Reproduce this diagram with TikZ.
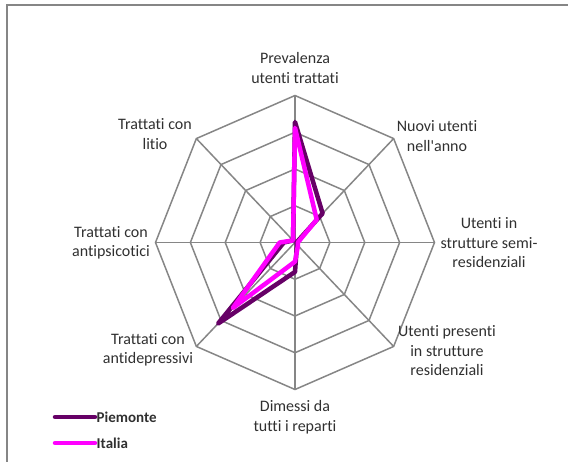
\documentclass[tikz,border=0pt]{standalone}
\usepackage{fontspec}
\setmainfont{Carlito}[Ligatures=NoCommon]
\usepackage{tikz}
\usetikzlibrary{positioning}
\definecolor{piemcol}{HTML}{660066}
\definecolor{itacol}{HTML}{FF00FF}
\definecolor{gridcol}{HTML}{868686}
\definecolor{txtcol}{HTML}{303030}
\tikzset{
 grid/.style={draw=gridcol, line width=1.5pt},
 piem/.style={draw=piemcol, line width=4.5pt, line join=round, line cap=round},
 ita/.style={draw=itacol, line width=4.5pt, line join=round, line cap=round},
 lab/.style={align=center, text=txtcol, font=\fontsize{16}{19.5}\selectfont, inner sep=0pt},
 leg/.style={anchor=west, text=txtcol, font=\fontsize{15}{18}\selectfont\bfseries, inner sep=1.5pt}
}

\begin{document}
\begin{tikzpicture}[x=1pt, y=-1pt]
 \useasboundingbox (0,0) rectangle (568,461);
 \draw[gridcol, line width=2pt] (7,470) -- (7,5) -- (575,5);
 \begin{scope}[shift={(295,242.5)}, x=139.5pt, y=147pt]
  \foreach \r in {0.25,0.5,0.75,1}
   \draw[grid] (0:\r) \foreach \a in {45,90,...,315} { -- (\a:\r) } -- cycle;
  \foreach \a in {0,45,...,315}
   \draw[grid] (0,0) -- (\a:1);
  \draw[piem] (90:0.82) -- (45:0.28) -- (0:0.01) -- (-45:0.02) -- (-90:0.2) -- (-135:0.78) -- (180:0.08) -- (135:0.02) -- cycle;
  \draw[ita] (90:0.78) -- (45:0.22) -- (0:0.02) -- (-45:0.03) -- (-90:0.13) -- (-135:0.63) -- (180:0.11) -- (135:0.02) -- cycle;
 \end{scope}
 \node[lab] (P) at (295, 68) {Prevalenza\\utenti trattati};
 \node[lab] (N) at (437, 136) {Nuovi utenti\\nell\textquotesingle anno};
 \node[lab] (S) at (489, 243) {Utenti in\\strutture semi-\\residenziali};
 \node[lab] (R) at (447, 351) {Utenti presenti\\in strutture\\residenziali};
 \node[lab] (D) at (295, 417) {Dimessi da\\tutti i reparti};
 \node[lab] (TD) at (148, 350) {Trattati con\\antidepressivi};
 \node[lab] (TP) at (111, 243) {Trattati con\\antipsicotici};
 \node[lab] (TL) at (155, 134) {Trattati con\\litio};
 \node[leg] (PM) at (95, 417) {Piemonte};
 \node[leg] (IT) at (95, 443) {Italia};
 \coordinate (pm) at (55, 417);
 \coordinate (it) at (55, 443);
 \draw[piem] (pm) -- (PM.west);
 \draw[ita] (it) -- (IT.west);
\end{tikzpicture}
\end{document}
